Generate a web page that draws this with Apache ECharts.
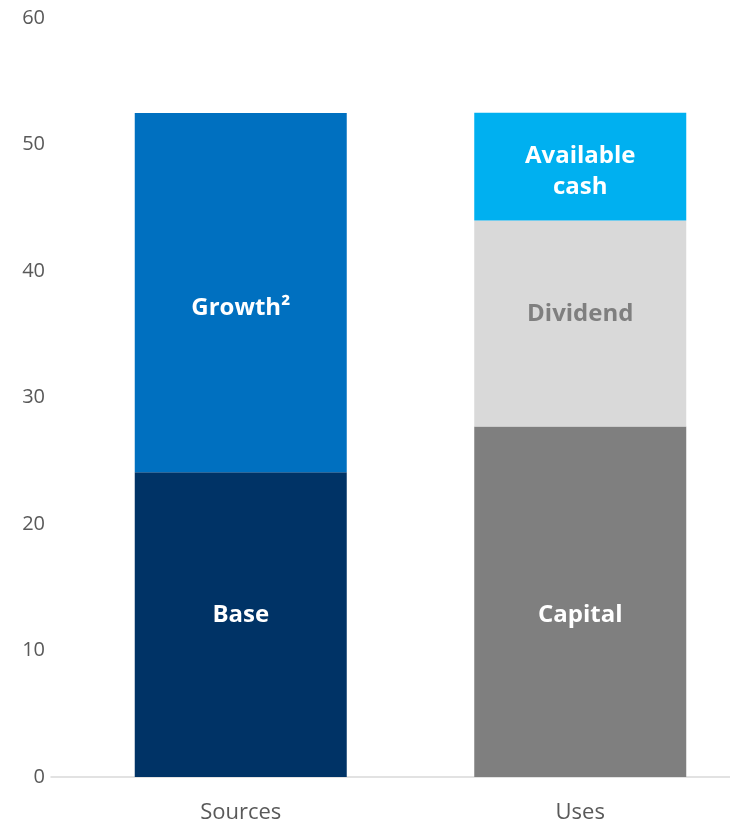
<!DOCTYPE html>
<html>
<head>
<meta charset="utf-8">
<script src="https://cdn.jsdelivr.net/npm/echarts@6/dist/echarts.min.js"></script>
<style>
  html, body { margin: 0; padding: 0; background: #fff; }
  #chart { width: 730px; height: 825px; }
</style>
</head>
<body>
<div id="chart"></div>
<script>
'use strict'

var categories = ['Sources', 'Uses'];
var yTicks = { min: 0, max: 60, interval: 10 };

var baseValues     = [24.1, '-'];
var growthValues   = [28.4, '-'];
var capitalValues  = ['-', 27.7];
var dividendValues = ['-', 16.3];
var cashValues     = ['-', 8.5];

var font = '"Open Sans", "Noto Sans", sans-serif';

function stackSeries(name, data, color, labelText, labelColor, offsetY) {
    return {
        name: name,
        type: 'bar',
        stack: 'total',
        xAxisIndex: 1,
        yAxisIndex: 1,
        barWidth: 212,
        data: data,
        itemStyle: { color: color },
        label: {
            show: true,
            position: 'inside',
            formatter: labelText,
            color: labelColor,
            fontFamily: font,
            fontWeight: 'bold',
            fontSize: 24,
            lineHeight: 31,
            offset: [0, offsetY]
        }
    };
}

var myChart = echarts.init(document.getElementById('chart'));
var option = {
    animation: false,
    grid: [
        { left: 51, right: 0, top: 18, bottom: 48, outerBoundsMode: 'none' },
        { left: 71, width: 679, top: 18, bottom: 48, outerBoundsMode: 'none' }
    ],
    xAxis: [
        {
            type: 'category',
            gridIndex: 0,
            data: [''],
            axisLine: { show: true, lineStyle: { color: '#D9D9D9', width: 1.5 } },
            axisTick: { show: false },
            axisLabel: { show: false }
        },
        {
            type: 'category',
            gridIndex: 1,
            data: categories,
            axisLine: { show: false },
            axisTick: { show: false },
            axisLabel: {
                color: '#595959',
                fontFamily: font,
                fontSize: 22,
                margin: 25
            }
        }
    ],
    yAxis: [
        {
            type: 'value',
            gridIndex: 0,
            min: yTicks.min,
            max: yTicks.max,
            interval: yTicks.interval,
            splitLine: { show: false },
            axisLine: { show: false },
            axisTick: { show: false },
            axisLabel: {
                color: '#595959',
                fontFamily: font,
                fontSize: 20,
                margin: 6
            }
        },
        {
            type: 'value',
            gridIndex: 1,
            min: yTicks.min,
            max: yTicks.max,
            interval: yTicks.interval,
            show: false,
            splitLine: { show: false }
        }
    ],
    series: [
        stackSeries('Base', baseValues, '#003366', 'Base', '#FFFFFF', -9),
        stackSeries('Growth', growthValues, '#0070C0', 'Growth²', '#FFFFFF', 16),
        stackSeries('Capital', capitalValues, '#7F7F7F', 'Capital', '#FFFFFF', 13),
        stackSeries('Dividend', dividendValues, '#D9D9D9', 'Dividend', '#7F7F7F', -9),
        stackSeries('Available cash', cashValues, '#00B0F0', 'Available\ncash', '#FFFFFF', 5)
    ]
};
myChart.setOption(option);
</script>
</body>
</html>
